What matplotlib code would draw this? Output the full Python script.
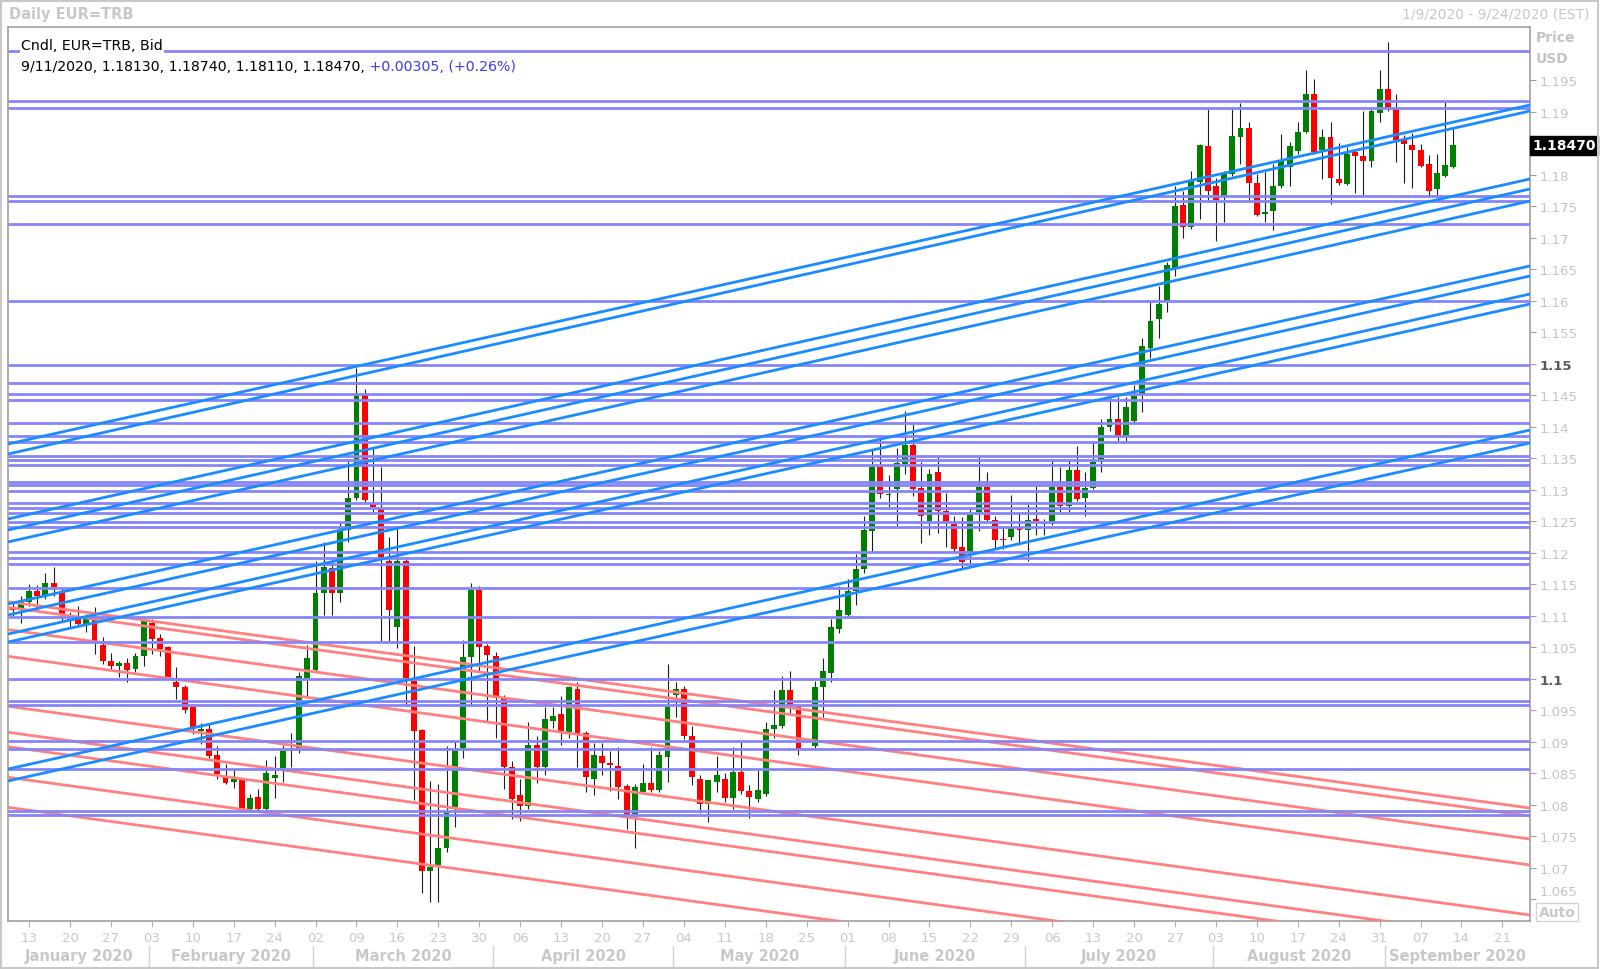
import numpy as np
import pandas as pd
import matplotlib
matplotlib.use('Agg')
import matplotlib.pyplot as plt
import matplotlib.transforms as mtransforms
from matplotlib.patches import Rectangle

plt.rcParams['font.family'] = ['DejaVu Sans']

# daily candles, one slot per weekday starting 9 Jan 2020 (nan = no candle)
first_day = '2020-01-09'
axis_end_day = '2020-09-25'

opens = [1.1112, 1.1112, 1.1123, 1.1139, 1.1132, 1.1153, 1.1140, 1.1093, 1.1095, 1.1087,
         1.1093, 1.1054, 1.1029, 1.1020, 1.1025, 1.1016, 1.1037, 1.1089, 1.1065, 1.1050,
         1.0996, 1.0988, 1.0955, 1.0918, 1.0920, 1.0879, 1.0844, 1.0837, 1.0839, 1.0794,
         1.0813, 1.0793, 1.0843, 1.0859, 1.0888, 1.0890, 1.1002, 1.1015, 1.1137, 1.1176,
         1.1137, 1.1237, 1.1287, 1.1451, 1.1278, 1.1270, 1.1187, 1.1082, 1.1187, 1.0997,
         1.0919, 1.0696, 1.0704, 1.0732, 1.0797, 1.0890, 1.1035, 1.1141, 1.1052, 1.1037,
         1.0971, 1.0860, 1.0816, 1.0798, 1.0895, 1.0861, 1.0933, 1.0944, 1.0916, 1.0984,
         1.0914, 1.0842, 1.0878, 1.0867, 1.0862, 1.0830, 1.0786, 1.0821, 1.0835, 1.0824,
         1.0876, 1.0975, 1.0984, 1.0910, 1.0842, 1.0801, 1.0837, 1.0842, 1.0811, 1.0852,
         1.0822, 1.0810, 1.0818, 1.0920, 1.0926, 1.0982, 1.0955, np.nan, 1.0894, 1.0987,
         1.1010, 1.1080, 1.1101, 1.1140, 1.1175, 1.1235, 1.1337, 1.1292, 1.1301, 1.1341,
         1.1371, 1.1303, 1.1251, 1.1328, 1.1267, 1.1246, 1.1209, 1.1202, 1.1265, 1.1304,
         1.1253, 1.1223, 1.1225, 1.1239, 1.1236, 1.1254, 1.1246, 1.1246, 1.1304, 1.1274,
         1.1331, 1.1287, 1.1303, 1.1344, 1.1400, 1.1412, 1.1386, 1.1410, 1.1450, 1.1525,
         1.1571, 1.1599, 1.1651, 1.1752, 1.1717, 1.1789, 1.1846, 1.1783, 1.1765, 1.1802,
         1.1861, 1.1874, 1.1787, 1.1738, 1.1743, 1.1783, 1.1812, 1.1838, 1.1868, 1.1929,
         1.1839, 1.1860, 1.1794, 1.1786, 1.1836, 1.1830, 1.1822, 1.1898, 1.1937, 1.1905,
         1.1855, 1.1848, 1.1840, 1.1817, 1.1777, 1.1799, 1.18130]
highs = [1.1124, 1.1132, 1.1151, 1.1149, 1.1168, 1.1177, 1.1146, 1.1106, 1.1116, 1.1103,
         1.1114, 1.1066, 1.1042, 1.1029, 1.1033, 1.1042, 1.1098, 1.1095, 1.1071, 1.1053,
         1.1019, 1.0991, 1.0960, 1.0930, 1.0930, 1.0894, 1.0865, 1.0855, 1.0842, 1.0818,
         1.0826, 1.0871, 1.0878, 1.0896, 1.0915, 1.1011, 1.1054, 1.1188, 1.1218, 1.1188,
         1.1247, 1.1349, 1.1494, 1.1460, 1.1369, 1.1336, 1.1225, 1.1240, 1.1192, 1.1052,
         1.0920, 1.0838, 1.0833, 1.0893, 1.0901, 1.1062, 1.1152, 1.1148, 1.1055, 1.1043,
         1.0975, 1.0870, 1.0841, 1.0932, 1.0909, 1.0955, 1.0955, 1.0973, 1.0989, 1.0996,
         1.0918, 1.0898, 1.0898, 1.0886, 1.0892, 1.0833, 1.0833, 1.0865, 1.0892, 1.0885,
         1.1024, 1.0995, 1.0989, 1.0926, 1.0847, 1.0840, 1.0878, 1.0851, 1.0892, 1.0900,
         1.0831, 1.0855, 1.0932, 1.0982, 1.1005, 1.1013, 1.0960, np.nan, 1.0997, 1.1034,
         1.1096, 1.1148, 1.1159, 1.1198, 1.1259, 1.1365, 1.1381, 1.1324, 1.1366, 1.1426,
         1.1405, 1.1344, 1.1334, 1.1352, 1.1296, 1.1259, 1.1257, 1.1270, 1.1352, 1.1329,
         1.1259, 1.1241, 1.1292, 1.1265, 1.1278, 1.1307, 1.1254, 1.1347, 1.1336, 1.1347,
         1.1370, 1.1328, 1.1378, 1.1413, 1.1450, 1.1447, 1.1447, 1.1466, 1.1542, 1.1598,
         1.1624, 1.1662, 1.1783, 1.1775, 1.1807, 1.1849, 1.1905, 1.1796, 1.1807, 1.1905,
         1.1915, 1.1884, 1.1802, 1.1804, 1.1818, 1.1865, 1.1853, 1.1884, 1.1967, 1.1952,
         1.1873, 1.1884, 1.1850, 1.1844, 1.1839, 1.1901, 1.1905, 1.1967, 1.2011, 1.1929,
         1.1864, 1.1867, 1.1849, 1.1831, 1.1833, 1.1916, 1.18740]
lows = [1.1100, 1.1089, 1.1116, 1.1108, 1.1127, 1.1132, 1.1090, 1.1082, 1.1085, 1.1074,
        1.1040, 1.1024, 1.1016, 1.1003, 1.0996, 1.1011, 1.1021, 1.1040, 1.1037, 1.1000,
        1.0969, 1.0946, 1.0913, 1.0897, 1.0874, 1.0841, 1.0833, 1.0827, 1.0790, 1.0789,
        1.0792, 1.0792, 1.0811, 1.0836, 1.0860, 1.0882, 1.0970, 1.1013, 1.1101, 1.1101,
        1.1123, 1.1218, 1.1284, 1.1278, 1.1265, 1.1060, 1.1060, 1.1049, 1.0959, 1.0808,
        1.0661, 1.0646, 1.0646, 1.0726, 1.0765, 1.0874, 1.0959, 1.1013, 1.0934, 1.0907,
        1.0825, 1.0778, 1.0774, 1.0794, 1.0835, 1.0847, 1.0922, 1.0895, 1.0906, 1.0861,
        1.0820, 1.0816, 1.0847, 1.0823, 1.0809, 1.0762, 1.0731, 1.0818, 1.0820, 1.0821,
        1.0837, 1.0939, 1.0905, 1.0831, 1.0788, 1.0773, 1.0821, 1.0805, 1.0794, 1.0818,
        1.0780, 1.0804, 1.0815, 1.0907, 1.0922, 1.0945, 1.0880, np.nan, 1.0888, 1.0939,
        1.0996, 1.1073, 1.1099, 1.1118, 1.1169, 1.1202, 1.1288, 1.1273, 1.1243, 1.1325,
        1.1291, 1.1216, 1.1228, 1.1232, 1.1209, 1.1202, 1.1175, 1.1180, 1.1235, 1.1250,
        1.1206, 1.1206, 1.1220, 1.1212, 1.1188, 1.1228, 1.1228, 1.1244, 1.1265, 1.1265,
        1.1283, 1.1259, 1.1302, 1.1328, 1.1394, 1.1377, 1.1378, 1.1407, 1.1424, 1.1509,
        1.1541, 1.1582, 1.1639, 1.1700, 1.1714, 1.1730, 1.1757, 1.1696, 1.1725, 1.1798,
        1.1818, 1.1759, 1.1735, 1.1725, 1.1712, 1.1780, 1.1782, 1.1833, 1.1866, 1.1833,
        1.1793, 1.1754, 1.1784, 1.1784, 1.1772, 1.1767, 1.1812, 1.1884, 1.1902, 1.1821,
        1.1788, 1.1780, 1.1812, 1.1767, 1.1765, 1.1797, 1.18110]
closes = [1.1110, 1.1124, 1.1139, 1.1132, 1.1152, 1.1146, 1.1103, 1.1096, 1.1088, 1.1095,
          1.1061, 1.1029, 1.1020, 1.1025, 1.1015, 1.1036, 1.1095, 1.1064, 1.1048, 1.1003,
          1.0988, 1.0951, 1.0920, 1.0921, 1.0878, 1.0849, 1.0835, 1.0841, 1.0794, 1.0811,
          1.0793, 1.0851, 1.0847, 1.0886, 1.0885, 1.1005, 1.1034, 1.1137, 1.1177, 1.1136,
          1.1237, 1.1288, 1.1451, 1.1284, 1.1273, 1.1192, 1.1110, 1.1187, 1.1002, 1.0918,
          1.0696, 1.0702, 1.0732, 1.0789, 1.0888, 1.1035, 1.1141, 1.1050, 1.1038, 1.0970,
          1.0860, 1.0809, 1.0799, 1.0895, 1.0861, 1.0936, 1.0941, 1.0916, 1.0987, 1.0913,
          1.0844, 1.0879, 1.0867, 1.0864, 1.0828, 1.0786, 1.0828, 1.0835, 1.0824, 1.0879,
          1.0955, 1.0984, 1.0910, 1.0844, 1.0802, 1.0839, 1.0847, 1.0811, 1.0852, 1.0823,
          1.0812, 1.0824, 1.0921, 1.0927, 1.0982, 1.0958, 1.0889, np.nan, 1.0987, 1.1013,
          1.1082, 1.1109, 1.1140, 1.1175, 1.1237, 1.1337, 1.1294, 1.1294, 1.1343, 1.1371,
          1.1302, 1.1258, 1.1326, 1.1267, 1.1251, 1.1207, 1.1185, 1.1260, 1.1304, 1.1253,
          1.1221, 1.1221, 1.1239, 1.1236, 1.1253, 1.1251, 1.1247, 1.1304, 1.1275, 1.1331,
          1.1286, 1.1303, 1.1344, 1.1400, 1.1412, 1.1386, 1.1431, 1.1449, 1.1529, 1.1569,
          1.1596, 1.1657, 1.1750, 1.1717, 1.1791, 1.1847, 1.1775, 1.1761, 1.1802, 1.1862,
          1.1874, 1.1787, 1.1737, 1.1741, 1.1782, 1.1822, 1.1846, 1.1869, 1.1929, 1.1836,
          1.1860, 1.1796, 1.1787, 1.1833, 1.1830, 1.1822, 1.1902, 1.1937, 1.1907, 1.1856,
          1.1849, 1.1839, 1.1814, 1.1774, 1.1803, 1.18165, 1.18470]

# horizontal levels drawn on the chart
levels = [1.1997, 1.1918, 1.1907, 1.1766, 1.1759, 1.1723, 1.1600, 1.1498, 1.1470,
          1.1452, 1.1443, 1.1407, 1.1386, 1.1376, 1.1354, 1.1347, 1.1340, 1.1312,
          1.1308, 1.1299, 1.1280, 1.1271, 1.1263, 1.1249, 1.1242, 1.1201, 1.1192,
          1.1183, 1.1144, 1.1099, 1.1059, 1.1000, 1.0965, 1.0958, 1.0902, 1.0889,
          1.0857, 1.0791, 1.0784]

# rising trend lines: price at left edge, price at right edge
blue_left = [1.13730, 1.13571, 1.12540, 1.12365, 1.12175, 1.11190, 1.11016,
             1.10714, 1.10587, 1.08571, 1.08381]
blue_right = [1.19111, 1.19016, 1.17937, 1.17778, 1.17587, 1.16556, 1.16397,
              1.16111, 1.15952, 1.13952, 1.13746]

# falling trend lines: price at left edge, price at right edge
red_left = [1.11227, 1.11138, 1.10783, 1.10360, 1.09567, 1.09154, 1.08925,
            1.08440, 1.07963]
red_right = [1.07952, 1.07825, 1.07460, 1.07048, 1.06254, 1.05841, 1.05603,
             1.05127, 1.04651]

last_price = 1.18470
header = '9/11/2020, 1.18130, 1.18740, 1.18110, 1.18470,'
change = ' +0.00305, (+0.26%)'

# axis setup
days = pd.bdate_range(first_day, axis_end_day)
x_left, x_right = -0.574, 185.37
y_low, y_high = 1.061587, 1.203492

fig = plt.figure(figsize=(16, 9.7), dpi=100)
ax = fig.add_axes([8 / 1600, 48 / 970, 1522 / 1600, 894 / 970])
ax.set_xlim(x_left, x_right)
ax.set_ylim(y_low, y_high)

# candles
o = np.array(opens)
h = np.array(highs)
l = np.array(lows)
c = np.array(closes)
idx = np.arange(len(o))
ok = ~np.isnan(o)
up = c >= o
body_colors = np.where(up, '#008000', '#ff0000')
ax.vlines(idx[ok], l[ok], h[ok], color='#1e1e1e', lw=0.8, zorder=2)
bottoms = np.minimum(o, c)
heights = np.maximum(np.abs(c - o), 0.00009)
ax.bar(idx[ok], heights[ok], bottom=bottoms[ok], width=0.72,
       color=body_colors[ok], lw=0, zorder=2.5)

# lines
for a, b in zip(red_left, red_right):
    ax.plot([x_left, x_right], [a, b], color='#ff8080', lw=2.0, zorder=3,
            solid_capstyle='butt')
ax.hlines(levels, x_left, x_right, colors='#8585f8', lw=2.0, zorder=3.2)
for a, b in zip(blue_left, blue_right):
    ax.plot([x_left, x_right], [a, b], color='#1a8cff', lw=2.0, zorder=3.4,
            solid_capstyle='butt')

# spines / ticks
for s in ax.spines.values():
    s.set_color('#a0a0a0')
    s.set_linewidth(1.2)

ax.yaxis.tick_right()
yt = np.round(np.arange(1065, 1196, 5) / 1000, 3)
ylabels = [('%.3f' % v).rstrip('0').rstrip('.') for v in yt]
# the last-price tag sits over 1.185
ylabels = ['' if s == '1.185' else s for s in ylabels]
ax.set_yticks(yt)
ax.set_yticklabels(ylabels)
ax.tick_params(axis='y', colors='#a0a0a0', labelcolor='#c4c4c4', length=4,
               labelsize=9.5, pad=3)
for t in ax.get_yticklabels():
    if t.get_text() in ('1.1', '1.15'):
        t.set_fontweight('bold')
        t.set_color('#5a5a5a')
    if t.get_text() == '1.065':
        # lifted a little above the Auto box
        t.set_transform(t.get_transform() +
                        mtransforms.ScaledTranslation(0, 0.09, fig.dpi_scale_trans))

mondays = [i for i, d in enumerate(days) if d.weekday() == 0]
ax.set_xticks(mondays)
ax.set_xticklabels(['%02d' % days[i].day for i in mondays])
ax.tick_params(axis='x', colors='#b0b0b0', labelcolor='#c8c8c8', length=4,
               labelsize=9.5, pad=3)

# month labels and separators
blend = mtransforms.blended_transform_factory(ax.transData, ax.transAxes)
month_starts = [i for i in range(1, len(days)) if days[i].month != days[i - 1].month]
seps = [i - 0.3 for i in month_starts]
edges = [x_left] + seps + [x_right]
names = [days[0].strftime('%B %Y')] + [days[i].strftime('%B %Y') for i in month_starts]
for k, name in enumerate(names):
    ax.text((edges[k] + edges[k + 1]) / 2, -0.0391, name, transform=blend,
            ha='center', va='center', fontsize=10.5, fontweight='bold',
            color='#c8c8c8')
for s in seps:
    ax.plot([s, s], [-0.028, -0.0505], transform=blend, color='#d0d0d0',
            lw=1, clip_on=False)

# last price tag
yblend = mtransforms.blended_transform_factory(ax.transAxes, ax.transData)
ax.text(1.0015, last_price, '%.5f' % last_price, transform=yblend, ha='left',
        va='center', fontsize=10, fontweight='bold', color='white',
        bbox=dict(boxstyle='square,pad=0.18', fc='black', ec='black'),
        clip_on=False, zorder=10)

# header texts
fig.text(9 / 1600, 1 - 15 / 970, 'Daily EUR=TRB', fontsize=10.5, fontweight='bold',
         color='#c8c8c8', va='center')
fig.text(1590 / 1600, 1 - 15 / 970, '1/9/2020 - 9/24/2020 (EST)', fontsize=10,
         color='#c8c8c8', ha='right', va='center')
fig.text(1536 / 1600, 1 - 38 / 970, 'Price', fontsize=10, fontweight='bold',
         color='#c4c4c4', va='center')
fig.text(1536 / 1600, 1 - 59 / 970, 'USD', fontsize=10, fontweight='bold',
         color='#c4c4c4', va='center')
fig.text(1557 / 1600, 1 - 913 / 970, 'Auto', fontsize=10, fontweight='bold',
         color='#c8c8c8', ha='center', va='center',
         bbox=dict(boxstyle='square,pad=0.15', fc='white', ec='#d4d4d4'))

fig.text(21 / 1600, 1 - 46 / 970, 'Cndl, EUR=TRB, Bid', fontsize=10.2, color='black',
         va='center', bbox=dict(boxstyle='square,pad=0.1', fc='white', ec='none'))
t1 = fig.text(21 / 1600, 1 - 67 / 970, header, fontsize=10.2, color='black',
              va='center')
fig.canvas.draw()
bb = t1.get_window_extent()
fig.text(bb.x1 / 1600, 1 - 67 / 970, change, fontsize=10.2, color='#3a3af0',
         va='center')

# outer frame
fig.patches.append(Rectangle((0.0005, 0.001), 0.998, 0.997, transform=fig.transFigure,
                             fill=False, ec='#c8c8c8', lw=1.5))

fig.savefig('out.png', dpi=100, facecolor='white')
